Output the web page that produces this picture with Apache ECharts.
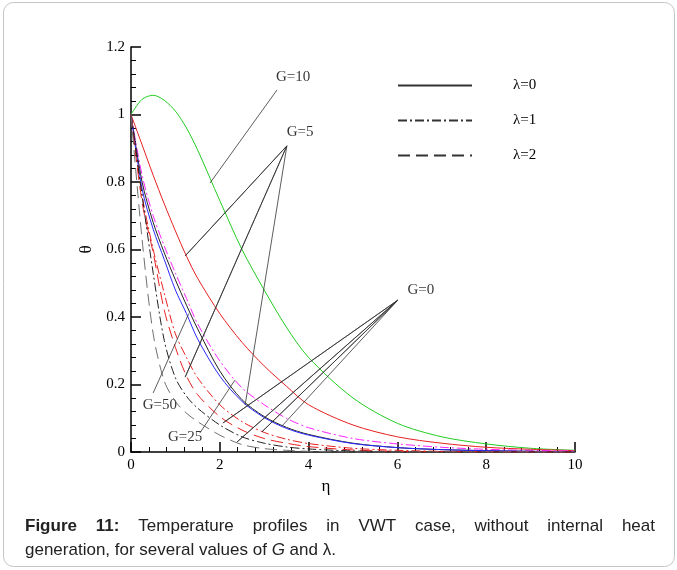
<!DOCTYPE html>
<html>
<head>
<meta charset="utf-8">
<script src="https://cdn.jsdelivr.net/npm/echarts@6/dist/echarts.min.js"></script>
<style>
  html, body { margin: 0; padding: 0; background: #fff; }
  #chart { width: 677px; height: 570px; }
</style>
</head>
<body>
<div id="chart"></div>
<script>
// eta grid shared by all profiles
const eta = [0, 0.25, 0.5, 0.75, 1, 1.25, 1.5, 2, 2.5, 3, 3.5, 4, 5, 6, 7, 8, 9, 10]

// theta values
const greenSolid = [1, 1.045, 1.057, 1.042, 1.01, 0.96, 0.895, 0.745, 0.6, 0.48, 0.37, 0.28, 0.16, 0.085, 0.045, 0.024, 0.011, 0.005]
const redSolid = [1, 0.91, 0.82, 0.735, 0.655, 0.58, 0.515, 0.41, 0.325, 0.255, 0.195, 0.14, 0.08, 0.045, 0.026, 0.014, 0.008, 0.004]
const magentaDashDot = [1, 0.82, 0.7, 0.61, 0.53, 0.455, 0.38, 0.27, 0.19, 0.14, 0.1, 0.072, 0.04, 0.024, 0.014, 0.008, 0.005, 0.003]
const blackSolid = [1, 0.8, 0.68, 0.59, 0.51, 0.435, 0.365, 0.24, 0.155, 0.105, 0.073, 0.052, 0.026, 0.013, 0.007, 0.004, 0.002, 0.001]
const blueSolid = [1, 0.78, 0.66, 0.57, 0.48, 0.41, 0.335, 0.225, 0.15, 0.102, 0.07, 0.05, 0.025, 0.013, 0.007, 0.004, 0.002, 0.001]
const redDashDot = [1, 0.76, 0.6, 0.47, 0.35, 0.28, 0.22, 0.14, 0.09, 0.058, 0.038, 0.025, 0.011, 0.005, 0.002, 0.001, 0, 0]
const redDashed = [1, 0.74, 0.59, 0.42, 0.31, 0.225, 0.17, 0.105, 0.065, 0.04, 0.026, 0.016, 0.006, 0.002, 0.001, 0, 0, 0]
const blackDashDot = [1, 0.76, 0.53, 0.33, 0.22, 0.165, 0.13, 0.08, 0.045, 0.026, 0.015, 0.009, 0.003, 0.001, 0, 0, 0, 0]
const grayDashed = [1, 0.63, 0.35, 0.21, 0.15, 0.115, 0.09, 0.05, 0.022, 0.01, 0.005, 0.002, 0, 0, 0, 0, 0, 0]

// legend entries
const lambdaNames = ['λ=0', 'λ=1', 'λ=2']

// annotations: label text, label position, leader start and leader ends (eta, theta)
const annoText = ['G=10', 'G=5', 'G=0', 'G=50', 'G=25']
const annoAt = [[3.65, 1.111], [3.81, 0.948], [6.53, 0.48], [0.65, 0.139], [1.22, 0.044]]
const leaderFrom = [[3.29, 1.073], [3.51, 0.907], [6.01, 0.45], [0.5, 0.175], [1.55, 0.056]]
const leaderTo = [
  [[1.78, 0.797]],
  [[1.22, 0.581], [1.22, 0.222], [2.57, 0.139]],
  [[2.07, 0.086], [2.39, 0.03], [2.95, 0.06], [3.42, 0.08]],
  [[1.3, 0.41]],
  [[2.34, 0.213]]
]

const DASHDOT = [9, 3, 2, 3]
const DASHED = [12, 6]
const SERIF = '"Liberation Serif", "DejaVu Serif", serif'
const SANS = '"Liberation Sans", Arial, sans-serif'

const pairs = ys => eta.map((x, i) => [x, ys[i]])

const curves = [
  { data: greenSolid, color: '#22cc22', type: 'solid' },
  { data: redSolid, color: '#e82020', type: 'solid' },
  { data: magentaDashDot, color: '#ff22ff', type: DASHDOT },
  { data: blackSolid, color: '#222222', type: 'solid' },
  { data: blueSolid, color: '#2a2aff', type: 'solid' },
  { data: redDashDot, color: '#e82020', type: DASHDOT },
  { data: redDashed, color: '#e82020', type: DASHED },
  { data: blackDashDot, color: '#222222', type: DASHDOT },
  { data: grayDashed, color: '#707070', type: DASHED }
]

const chart = echarts.init(document.getElementById('chart'), null, { renderer: 'canvas' })

const series = []
curves.forEach((c, i) => {
  series.push({
    name: 'curve' + i,
    type: 'line',
    data: pairs(c.data),
    smooth: 0.3,
    symbol: 'none',
    silent: true,
    lineStyle: { color: c.color, width: 1, type: c.type }
  })
})

// legend-only series
const legendTypes = ['solid', DASHDOT, DASHED]
lambdaNames.forEach((n, i) => {
  series.push({
    name: n,
    type: 'line',
    data: [],
    symbol: 'none',
    showSymbol: false,
    color: '#333',
    lineStyle: { color: '#333', width: 1, type: legendTypes[i] }
  })
})

// leader lines
leaderTo.forEach((ends, i) => {
  const d = []
  ends.forEach(e => { d.push(leaderFrom[i]); d.push(e) })
  series.push({
    name: 'leader' + i,
    type: 'line',
    data: d,
    symbol: 'none',
    silent: true,
    lineStyle: { color: '#333', width: 0.8 }
  })
})

series.push({
  name: 'labels',
  type: 'scatter',
  data: annoAt.map((p, i) => [p[0], p[1], annoText[i]]),
  symbolSize: 0,
  silent: true,
  label: {
    show: true,
    position: 'inside',
    formatter: p => p.value[2],
    color: '#000',
    fontFamily: SERIF,
    fontSize: 15
  }
})

// caption, line 1 justified
const measure = document.createElement('canvas').getContext('2d')
const boldFont = 'bold 17px ' + SANS
const normFont = '17px ' + SANS
const capWords = [['Figure', boldFont], ['11:', boldFont], ['Temperature', normFont], ['profiles', normFont], ['in', normFont],
  ['VWT', normFont], ['case,', normFont], ['without', normFont], ['internal', normFont], ['heat', normFont]]
const capLeft = 25
const capRight = 655
let total = 0
capWords.forEach(w => { measure.font = w[1]; w.push(measure.measureText(w[0]).width); total += w[2] })
const gap = (capRight - capLeft - total) / (capWords.length - 1)
const graphic = [{
  type: 'rect',
  shape: { x: 3.5, y: 2.5, width: 671, height: 564, r: 10 },
  style: { fill: 'none', stroke: '#c4c4c4', lineWidth: 1 },
  silent: true
}]
let cx = capLeft
capWords.forEach(w => {
  graphic.push({ type: 'text', x: cx, y: 518, style: { text: w[0], font: w[1], fill: '#222' } })
  cx += w[2] + gap
})
graphic.push({
  type: 'text', x: capLeft, y: 542,
  style: {
    text: 'generation, for several values of {i|G} and λ.',
    font: normFont,
    fill: '#222',
    rich: { i: { fontStyle: 'italic', fontFamily: SANS, fontSize: 17, fill: '#222' } }
  }
})

const option = {
  animation: false,
  backgroundColor: '#fff',
  grid: { left: 131, right: 102, top: 47, bottom: 118 },
  legend: {
    data: lambdaNames,
    orient: 'vertical',
    left: 392,
    top: 73,
    itemWidth: 74,
    itemHeight: 14,
    itemGap: 20,
    selectedMode: false,
    itemStyle: { opacity: 0 },
    textStyle: { fontFamily: SERIF, fontSize: 15, color: '#000', padding: [0, 0, 0, 36] }
  },
  xAxis: {
    type: 'value',
    min: 0,
    max: 10,
    interval: 2,
    name: 'η',
    nameLocation: 'middle',
    nameGap: 24,
    nameTextStyle: { fontFamily: SERIF, fontSize: 17, color: '#000', padding: [0, 54, 0, 0] },
    axisLine: { lineStyle: { color: '#000', width: 1.5 } },
    axisTick: { inside: true, length: 10, lineStyle: { color: '#000', width: 1.5 } },
    minorTick: { show: true, splitNumber: 5, length: 5, lineStyle: { color: '#000', width: 1 } },
    splitLine: { show: false },
    axisLabel: { color: '#000', fontFamily: SERIF, fontSize: 15, margin: 6 }
  },
  yAxis: {
    type: 'value',
    min: 0,
    max: 1.2,
    interval: 0.2,
    name: 'θ',
    nameLocation: 'middle',
    nameGap: 31,
    nameRotate: 90,
    nameTextStyle: { fontFamily: SERIF, fontSize: 17, color: '#000' },
    axisLine: { show: true, lineStyle: { color: '#000', width: 1.5 } },
    axisTick: { show: true, inside: true, length: 10, lineStyle: { color: '#000', width: 1.5 } },
    minorTick: { show: true, splitNumber: 5, length: 5, lineStyle: { color: '#000', width: 1 } },
    splitLine: { show: false },
    axisLabel: { color: '#000', fontFamily: SERIF, fontSize: 15, margin: 6, formatter: v => String(+v.toFixed(1)) }
  },
  graphic: graphic,
  series: series
}

chart.setOption(option)
</script>
</body>
</html>
